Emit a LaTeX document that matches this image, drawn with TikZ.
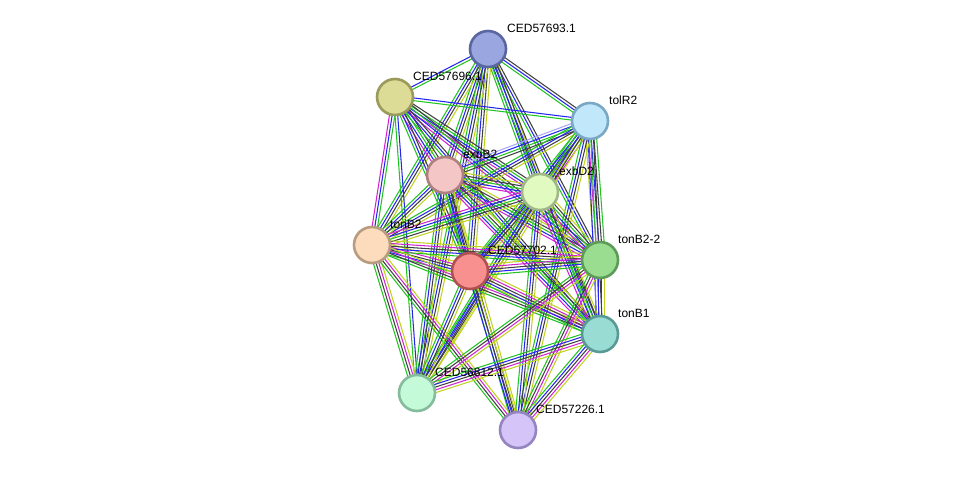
\documentclass[tikz,border=0pt]{standalone}
\usepackage{fontspec}
\setmainfont{Liberation Sans}
\usetikzlibrary{calc,backgrounds}
\definecolor{eG}{HTML}{22C422}
\definecolor{eB}{HTML}{2626F0}
\definecolor{eK}{HTML}{404040}
\definecolor{eM}{HTML}{D024D0}
\definecolor{eY}{HTML}{BFD31E}
\definecolor{eL}{HTML}{A8A8F8}
\tikzset{
  prot/.style={circle,minimum size=36pt,inner sep=0pt,line width=2.6pt},
  plabel/.style={anchor=west,font=\fontsize{12}{14}\selectfont,inner sep=0pt},
  eline/.style={line width=1.05pt}
}
\newcommand\myedge[3]{%
  \foreach \cc [count=\nn] in {#3} {\xdef\edgen{\nn}}%
  \foreach \cc [count=\ii] in {#3} {%
    \pgfmathsetmacro\off{(\ii-(\edgen+1)/2)*2.7}%
    \draw[eline,color=\cc] ($(#1)!\off pt!90:(#2)$) -- ($(#2)!\off pt!-90:(#1)$);
  }%
}
\begin{document}
\begin{tikzpicture}[x=1pt,y=-1pt]
\useasboundingbox (0,0) rectangle (976,476);
\node[prot,fill={rgb,255:red,154;green,166;blue,224},draw={rgb,255:red,90;green,102;blue,160}] (a693) at (488,49) {};
\node[prot,fill={rgb,255:red,220;green,220;blue,150},draw={rgb,255:red,154;green,154;blue,90}] (a696) at (395,97) {};
\node[prot,fill={rgb,255:red,192;green,232;blue,250},draw={rgb,255:red,122;green,168;blue,196}] (tolR) at (590,121) {};
\node[prot,fill={rgb,255:red,244;green,198;blue,198},draw={rgb,255:red,176;green,128;blue,128}] (exbB) at (445,175) {};
\node[prot,fill={rgb,255:red,224;green,250;blue,192},draw={rgb,255:red,160;green,184;blue,136}] (exbD) at (540,192) {};
\node[prot,fill={rgb,255:red,252;green,220;blue,188},draw={rgb,255:red,184;green,156;blue,128}] (tonB) at (372,245) {};
\node[prot,fill={rgb,255:red,248;green,144;blue,144},draw={rgb,255:red,176;green,80;blue,80}] (a702) at (470,271) {};
\node[prot,fill={rgb,255:red,154;green,220;blue,144},draw={rgb,255:red,94;green,154;blue,88}] (tonBB) at (600,260) {};
\node[prot,fill={rgb,255:red,152;green,220;blue,212},draw={rgb,255:red,90;green,154;blue,148}] (tonBA) at (600,334) {};
\node[prot,fill={rgb,255:red,196;green,250;blue,216},draw={rgb,255:red,132;green,188;blue,156}] (a812) at (417,393) {};
\node[prot,fill={rgb,255:red,212;green,196;blue,248},draw={rgb,255:red,148;green,132;blue,192}] (a226) at (518,430) {};
\begin{scope}[on background layer]
\fill[white] (0,0) rectangle (976,476);
\myedge{a693}{a696}{eB,eG}
\myedge{a693}{tolR}{eG,eB,eK}
\myedge{a693}{exbB}{eG,eB,eK,eY}
\myedge{a693}{exbD}{eG,eB,eK,eY}
\myedge{a693}{tonB}{eG,eB,eK,eY}
\myedge{a693}{a702}{eG,eB,eK,eY}
\myedge{a693}{tonBB}{eG,eB,eK}
\myedge{a693}{tonBA}{eG,eB,eK}
\myedge{a693}{a812}{eG,eB,eK,eY}
\myedge{a696}{tolR}{eG,eB}
\myedge{a696}{tonB}{eM,eB,eG}
\myedge{a696}{exbB}{eM,eB,eG,eK}
\myedge{a696}{exbD}{eM,eB,eG,eK}
\myedge{a696}{a702}{eG,eB,eK}
\myedge{a696}{tonBB}{eM,eB,eG,eK}
\myedge{a696}{tonBA}{eG,eB,eK}
\myedge{a696}{a812}{eG,eB}
\myedge{tolR}{exbB}{eL,eB,eG,eK}
\myedge{tolR}{exbD}{eG,eB,eK,eY,eM}
\myedge{tolR}{tonB}{eG,eB,eK,eY}
\myedge{tolR}{a702}{eG,eB,eK,eY}
\myedge{tolR}{tonBB}{eY,eM,eB,eK,eG}
\myedge{tolR}{tonBA}{eB,eG,eK}
\myedge{tolR}{a812}{eG,eB,eK,eY}
\myedge{tolR}{a226}{eG,eB,eK,eY}
\myedge{exbB}{exbD}{eM,eB,eG,eK,eY}
\myedge{exbB}{tonB}{eG,eB,eK,eY}
\myedge{exbB}{a702}{eG,eB,eK,eY}
\myedge{exbB}{tonBB}{eM,eB,eG,eK,eY}
\myedge{exbB}{tonBA}{eM,eB,eG,eK,eY}
\myedge{exbB}{a812}{eG,eB,eK,eY}
\myedge{exbB}{a226}{eG,eB,eK,eY}
\myedge{exbD}{tonB}{eM,eB,eG,eK,eY}
\myedge{exbD}{a702}{eG,eB,eK,eY}
\myedge{exbD}{tonBB}{eM,eB,eG,eK,eY}
\myedge{exbD}{tonBA}{eM,eB,eG,eK,eY}
\myedge{exbD}{a812}{eG,eB,eK,eY}
\myedge{exbD}{a226}{eG,eB,eK,eY}
\myedge{tonB}{a702}{eG,eB,eK,eM,eY}
\myedge{tonB}{tonBB}{eG,eB,eK,eM,eY}
\myedge{tonB}{tonBA}{eG,eK,eM,eY}
\myedge{tonB}{a812}{eG,eK,eM,eY}
\myedge{tonB}{a226}{eG,eK,eM,eY}
\myedge{a702}{tonBB}{eG,eB,eK,eM,eY}
\myedge{a702}{tonBA}{eG,eB,eK,eM,eY}
\myedge{a702}{a812}{eG,eB,eK,eY}
\myedge{a702}{a226}{eB,eK,eY}
\myedge{tonBB}{tonBA}{eG,eB,eK,eY}
\myedge{tonBB}{a812}{eG,eK,eM,eY}
\myedge{tonBB}{a226}{eG,eK,eM,eY}
\myedge{tonBA}{a812}{eG,eB,eK,eM,eY}
\myedge{tonBA}{a226}{eG,eB,eK,eM,eY}
\end{scope}
\node[plabel] (l693) at ($(a693)+(19,-21)$) {CED57693.1};
\node[plabel] (l696) at ($(a696)+(18,-21)$) {CED57696.1};
\node[plabel] (ltolR) at ($(tolR)+(19,-21)$) {tolR2};
\node[plabel] (lexbB) at ($(exbB)+(18,-21)$) {exbB2};
\node[plabel] (lexbD) at ($(exbD)+(19,-21)$) {exbD2};
\node[plabel] (ltonB) at ($(tonB)+(18,-21)$) {tonB2};
\node[plabel] (l702) at ($(a702)+(18,-21)$) {CED57702.1};
\node[plabel] (ltonBB) at ($(tonBB)+(18,-21)$) {tonB2-2};
\node[plabel] (ltonBA) at ($(tonBA)+(18,-21)$) {tonB1};
\node[plabel] (l812) at ($(a812)+(18,-21)$) {CED56812.1};
\node[plabel] (l226) at ($(a226)+(18,-21)$) {CED57226.1};
\end{tikzpicture}
\end{document}
